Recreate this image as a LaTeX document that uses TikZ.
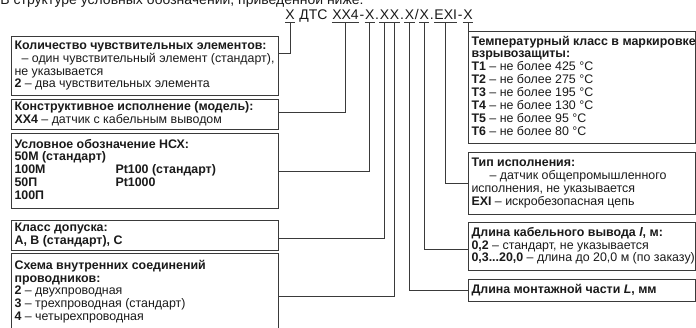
\documentclass[tikz,border=0pt]{standalone}
\usepackage{fontspec}
\setmainfont{Liberation Sans}
\usetikzlibrary{positioning,calc}
\definecolor{cink}{HTML}{1A1A1A}
\definecolor{cline}{HTML}{3A3A3A}
\newcommand{\boxfont}{\fontsize{12.4}{12.7}\selectfont}
\newcommand{\codefont}{\fontsize{14}{16}\selectfont}
% text of a legend box, flush left, lines never broken
\newcommand{\lines}[2]{\makebox[#1][l]{\begin{tabular}{@{}l@{}}#2\end{tabular}}}
\tikzset{
  every picture/.style={line width=0.8pt},
  legend/.style={draw=cline, line width=1.1pt, anchor=north west, inner xsep=3pt, inner ysep=2pt, font=\boxfont, text=cink},
  seg/.style={inner xsep=0pt, inner ysep=2.2pt, font=\codefont, text=cink},
  wire/.style={draw=cline, line width=0.8pt},
}

\begin{document}
\begin{tikzpicture}[x=1pt, y=-1pt]
  \useasboundingbox (0,0) rectangle (696,328);
  \clip (0,0) rectangle (696,328);
  \fill[white] (0,0) rectangle (696,328);
  % line cut by the page edge
  \node[seg, anchor=base west] (intro) at (0,5) {В структуре условных обозначений, приведенной ниже:};
  % the code, one node per part
  \node[seg, anchor=base west] (k1) at (285,19.5) {X};
  \node[seg, base right=3.9pt of k1] (k2) {ДТС};
  \node[seg, base right=3.9pt of k2] (k3) {XX4};
  \node[seg, base right=0pt of k3] (d1) {-};
  \node[seg, base right=0pt of d1] (k4) {X};
  \node[seg, base right=0pt of k4] (d2) {.};
  \node[seg, base right=0pt of d2] (k5a) {X};
  \node[seg, base right=0pt of k5a] (k5b) {X};
  \node[seg, base right=0pt of k5b] (d3) {.};
  \node[seg, base right=0pt of d3] (k6) {X};
  \node[seg, base right=0pt of k6] (d4) {/};
  \node[seg, base right=0pt of d4] (k7) {X};
  \node[seg, base right=0pt of k7] (d5) {.};
  \node[seg, base right=0pt of d5] (k8) {EXI};
  \node[seg, base right=0pt of k8] (d6) {-};
  \node[seg, base right=0pt of d6] (k9) {X};
  \foreach \k in {k1,k3,k4,k6,k7,k8,k9}
    \draw[wire] (\k.south west) -- (\k.south east);
  \draw[wire] (k5a.south west) -- (k5b.south east);
  % left column
  \node[legend, minimum width=267pt, minimum height=59pt] (b1) at (11,36) {\lines{261pt}{\textbf{Количество чувствительных элементов:}\\
    \hspace*{7pt}– один чувствительный элемент (стандарт),\\
    не указывается\\
    \textbf{2} – два чувствительных элемента}};
  \node[legend, minimum width=267pt, minimum height=30pt] (b2) at (11,99) {\lines{261pt}{\textbf{Конструктивное исполнение (модель):}\\
    \textbf{XX4} – датчик с кабельным выводом}};
  \node[legend, minimum width=267pt, minimum height=75pt] (b3) at (11,133) {\lines{261pt}{\textbf{Условное обозначение НСХ:}\\
    \textbf{50М (стандарт)}\\
    \textbf{\makebox[101pt][l]{100М}Pt100 (стандарт)}\\
    \textbf{\makebox[101pt][l]{50П}Pt1000}\\
    \textbf{100П}}};
  \node[legend, minimum width=267pt, minimum height=30pt] (b4) at (11,220) {\lines{261pt}{\textbf{Класс допуска:}\\
    \textbf{А, В (стандарт), С}}};
  \node[legend, minimum width=267pt, minimum height=77pt] (b5) at (11,253) {\lines{261pt}{\textbf{Схема внутренних соединений}\\
    \textbf{проводников:}\\
    \textbf{2} – двухпроводная\\
    \textbf{3} – трехпроводная (стандарт)\\
    \textbf{4} – четырехпроводная}};
  % right column
  \node[legend, minimum width=227pt, minimum height=112pt] (r1) at (468,31) {\lines{221pt}{\textbf{Температурный класс в маркировке}\\
    \textbf{взрывозащиты:}\\
    \textbf{T1} – не более 425 °C\\
    \textbf{T2} – не более 275 °C\\
    \textbf{T3} – не более 195 °C\\
    \textbf{T4} – не более 130 °C\\
    \textbf{T5} – не более 95 °C\\
    \textbf{T6} – не более 80 °C}};
  \node[legend, minimum width=227pt, minimum height=62pt] (r2) at (468,152) {\lines{221pt}{\textbf{Тип исполнения:}\\
    \hspace*{18pt}– датчик общепромышленного\\
    исполнения, не указывается\\
    \textbf{EXI} – искробезопасная цепь}};
  \node[legend, minimum width=227pt, minimum height=48pt] (r3) at (468,222) {\lines{221pt}{\textbf{Длина кабельного вывода \textit{l}, м:}\\
    \textbf{0,2} – стандарт, не указывается\\
    \textbf{0,3...20,0} – длина до 20,0 м (по заказу)}};
  \node[legend, minimum width=227pt, minimum height=22pt] (r4) at (468,279) {\lines{221pt}{\textbf{Длина монтажной части \textit{L}, мм}}};
  % connectors
  \draw[wire] (k1.south) |- ([yshift=-17pt]b1.north east);
  \draw[wire] (k3.south) |- ([yshift=-13pt]b2.north east);
  \draw[wire] (k4.south) |- (b3.east);
  \draw[wire] (k5a.south) |- ([yshift=-3pt]b4.east);
  \draw[wire] (k5b.south) |- ([yshift=-43pt]b5.north east);
  \draw[wire] (k6.south) |- (r4.west);
  \draw[wire] (k7.south) |- ([yshift=-3pt]r3.west);
  \draw[wire] (k8.south) |- (r2.west);
  \draw[wire] (k9.south) |- ([yshift=4pt]r1.west);
\end{tikzpicture}
\end{document}
